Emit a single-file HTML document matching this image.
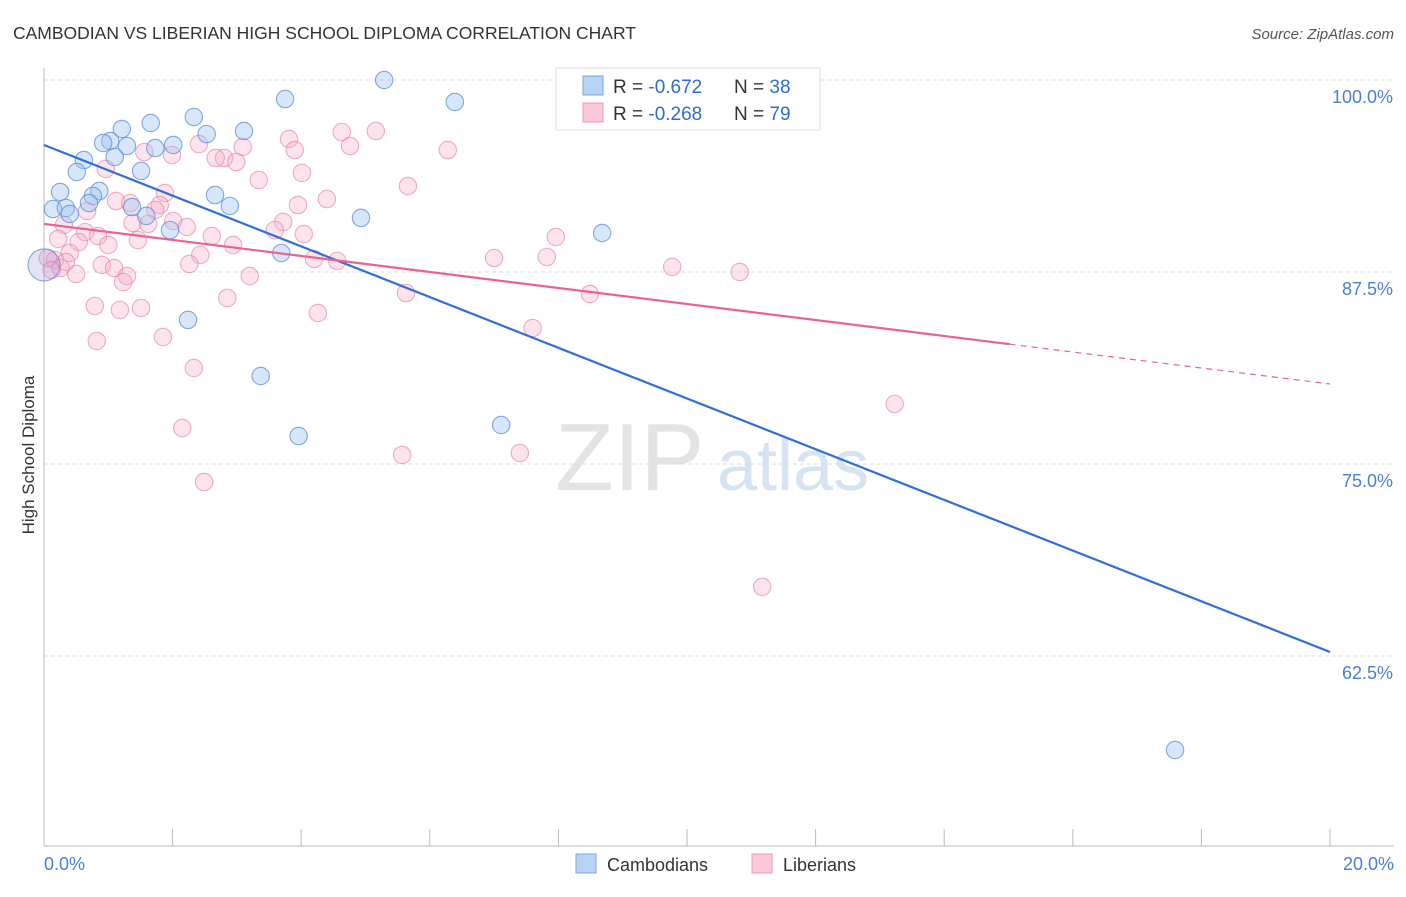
<!DOCTYPE html>
<html><head><meta charset="utf-8">
<style>
html,body{margin:0;padding:0;background:#fff;}
body{width:1406px;height:892px;overflow:hidden;font-family:"Liberation Sans",sans-serif;}
svg text{font-family:"Liberation Sans",sans-serif;}
</style></head>
<body>
<svg id="chart" width="1406" height="892" viewBox="0 0 1406 892" xmlns="http://www.w3.org/2000/svg">
  <text x="13" y="39" font-size="17.5" fill="#333">CAMBODIAN VS LIBERIAN HIGH SCHOOL DIPLOMA CORRELATION CHART</text>
  <text x="1394" y="39" font-size="15" fill="#555" text-anchor="end" font-style="italic">Source: ZipAtlas.com</text>
  <text transform="translate(34,455) rotate(-90)" font-size="17" fill="#333" text-anchor="middle">High School Diploma</text>
  <g>
    <text x="555" y="490" font-size="96" fill="#e3e3e3" font-family="Liberation Serif, serif">ZIP</text>
    <text x="717" y="490" font-size="72" fill="#d6e3f3">atlas</text>
  </g>
  <g id="grid"></g>
  <g id="axes"></g>
  <g id="pinkPts"></g>
  <g id="bluePts"></g>
  <g id="trends"></g>
  <g>
    <rect x="556" y="68" width="264" height="62" fill="#fff" stroke="#ddd"/>
    <rect x="583" y="76" width="20" height="19" fill="#b9d3f5" stroke="#7aa6e3"/>
    <rect x="583" y="103" width="20" height="19" fill="#fbc8d7" stroke="#ee9ab3"/>
    <text x="613" y="93" font-size="19" fill="#333">R = <tspan fill="#2f6bd3">-0.672</tspan></text>
    <text x="734" y="93" font-size="19" fill="#333">N = <tspan fill="#2f6bd3">38</tspan></text>
    <text x="613" y="120" font-size="19" fill="#333">R = <tspan fill="#2f6bd3">-0.268</tspan></text>
    <text x="734" y="120" font-size="19" fill="#333">N = <tspan fill="#2f6bd3">79</tspan></text>
  </g>
  <g>
    <rect x="576" y="854" width="20" height="19" fill="#b9d3f5" stroke="#7aa6e3"/>
    <text x="607" y="871" font-size="18" fill="#333">Cambodians</text>
    <rect x="752" y="854" width="20" height="19" fill="#fbc8d7" stroke="#ee9ab3"/>
    <text x="783" y="871" font-size="18" fill="#333">Liberians</text>
  </g>
</svg>
<script>
const blueX=[5.29,3.75,6.39,2.33,1.66,1.21,3.11,2.53,1.03,0.92,1.29,1.73,2.01,1.10,0.62,1.51,0.51,0.25,0.86,0.76,2.66,0.14,0.34,0.40,0.70,1.37,1.59,2.89,4.93,1.96,8.68,3.69,0,2.24,3.37,3.96,7.11,17.59];
const blueY=[100.0,98.76,98.57,97.59,97.20,96.81,96.68,96.48,96.03,95.90,95.70,95.57,95.77,94.99,94.79,94.08,94.01,92.71,92.77,92.45,92.51,91.60,91.67,91.28,91.99,91.73,91.15,91.80,91.02,90.23,90.04,88.74,87.96,84.38,80.73,76.82,77.54,56.38];
const pinkX=[5.16,4.63,3.81,3.90,3.09,2.41,6.28,4.76,1.99,1.56,2.80,2.99,0.96,4.01,3.34,5.66,1.88,4.40,3.95,1.12,1.34,1.80,0.67,1.73,1.38,2.01,2.22,1.62,3.72,0.31,4.04,2.61,0.64,0.22,0.84,1.46,3.59,2.94,7.96,1.00,0.54,0.40,2.43,7.00,7.82,4.20,4.56,2.26,0.90,9.77,10.82,0.17,0.26,1.09,1.29,0.50,3.20,1.23,5.63,8.49,2.85,0.79,1.18,1.51,4.26,7.60,0.82,1.85,2.33,13.23,2.15,5.57,7.40,2.49,11.17,0.06,0.12,2.67,0.34];
const pinkY=[96.68,96.61,96.16,95.44,95.64,95.83,95.44,95.70,95.12,95.31,94.92,94.66,94.21,93.95,93.49,93.10,92.64,92.25,91.86,92.12,91.99,91.86,91.47,91.54,90.69,90.82,90.43,90.63,90.76,90.56,89.97,89.84,90.10,89.65,89.84,89.58,90.23,89.26,89.78,89.26,89.45,88.74,88.61,88.41,88.48,88.35,88.22,88.02,87.96,87.83,87.50,88.28,87.76,87.76,87.24,87.37,87.24,86.85,86.13,86.07,85.81,85.29,85.03,85.16,84.83,83.85,83.01,83.27,81.25,78.91,77.34,75.59,75.72,73.83,67.00,88.41,87.63,94.92,88.15];
const blueTrendX=[0,20];
const blueTrendY=[95.77,62.76];
const pinkTrendX=[0,15.02,20];
const pinkTrendY=[90.63,82.80,80.21];
const yTicks=[100,87.5,75,62.5];
const yTickLabels=["100.0%","87.5%","75.0%","62.5%"];
const xTickLabels=["0.0%","20.0%"];

const NS="http://www.w3.org/2000/svg";
const sx=v=>44+v/20*1286;
const sy=v=>80+(100-v)/12.5*192;
function mk(tag,attrs,parent){const e=document.createElementNS(NS,tag);for(const k in attrs)e.setAttribute(k,attrs[k]);parent.appendChild(e);return e;}
const grid=document.getElementById('grid'),axes=document.getElementById('axes');
yTicks.forEach((t,i)=>{
  const g=mk('line',{x1:44,x2:1394,y1:sy(t),y2:sy(t),stroke:'#ddd','stroke-dasharray':'4,3'},grid);
  
  
  const l=mk('text',{x:1393,y:sy(t)+23,'font-size':18,fill:'#4a7fd6','text-anchor':'end'},axes);
  l.textContent=yTickLabels[i];
  
  
});
mk('line',{x1:44,x2:44,y1:68,y2:846,stroke:'#bbb'},axes);
mk('line',{x1:44,x2:1394,y1:846,y2:846,stroke:'#bbb'},axes);
for(let i=0;i<=10;i++){mk('line',{x1:sx(i*2),x2:sx(i*2),y1:829,y2:846,stroke:'#bbb'},axes);}
[[0,'start',44],[20,'end',1394]].forEach((d,i)=>{
  const t=mk('text',{x:d[2],y:870,'font-size':18,fill:'#4a7fd6','text-anchor':d[1]},axes);
  t.textContent=xTickLabels[i];
  
  
});
const pp=document.getElementById('pinkPts');
pinkX.forEach((x,i)=>{
  const c=mk('circle',{cx:sx(x),cy:sy(pinkY[i]),r:8.7,fill:'rgba(248,170,195,0.32)',stroke:'rgba(232,120,155,0.6)','stroke-width':1.1},pp);
  
  
});
const bp=document.getElementById('bluePts');
blueX.forEach((x,i)=>{
  const big=(x===0);
  const c=mk('circle',{cx:sx(x),cy:sy(blueY[i]),r:big?16:8.7,fill:big?'rgba(170,160,220,0.3)':'rgba(160,195,240,0.42)',stroke:'rgba(80,135,215,0.7)','stroke-width':1.1},bp);
  
  
});
const tr=document.getElementById('trends');
const bl=mk('line',{x1:sx(blueTrendX[0]),y1:sy(blueTrendY[0]),x2:sx(blueTrendX[1]),y2:sy(blueTrendY[1]),stroke:'#2f6fd8','stroke-width':2.2},tr);


const pl=mk('line',{x1:sx(pinkTrendX[0]),y1:sy(pinkTrendY[0]),x2:sx(pinkTrendX[1]),y2:sy(pinkTrendY[1]),stroke:'#e8638e','stroke-width':2.2},tr);


const pd=mk('line',{x1:sx(pinkTrendX[1]),y1:sy(pinkTrendY[1]),x2:sx(pinkTrendX[2]),y2:sy(pinkTrendY[2]),stroke:'#e8638e','stroke-width':1.2,'stroke-dasharray':'6,5'},tr);


</script>
</body></html>
